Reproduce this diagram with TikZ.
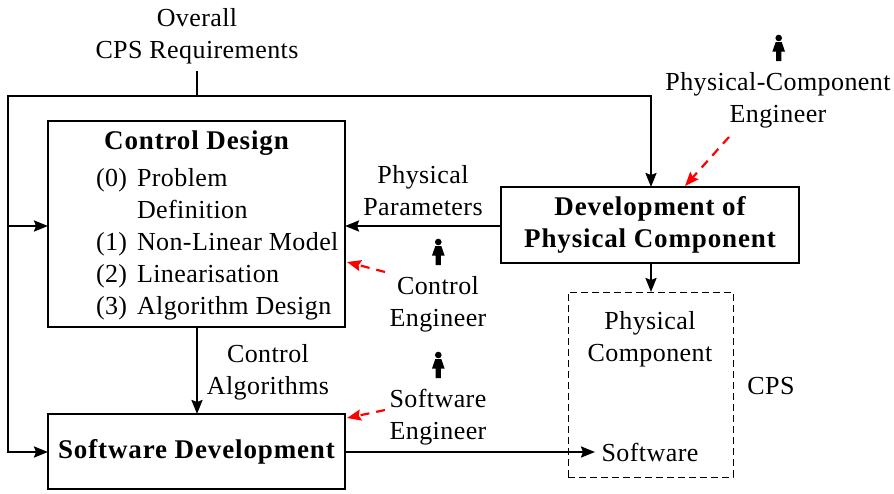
\documentclass[tikz,border=0pt]{standalone}
\usepackage{fontspec}
\setmainfont{Liberation Serif}[LetterSpace=1.6,BoldFeatures={LetterSpace=3.2}]
\usetikzlibrary{arrows.meta}
\tikzset{
  x=1pt,y=-1pt,
  lbl/.style={inner sep=0pt,outer sep=0pt,font=\fontsize{26}{32}\selectfont,text=black},
  ctr/.style={lbl,align=center},
  hd/.style={lbl,font=\fontsize{27}{32}\selectfont\bfseries},
  box/.style={draw,line width=2.2pt,inner sep=0pt,outer sep=0pt},
  dbox/.style={draw,dashed,line width=1pt,dash pattern=on 7pt off 4pt,inner sep=0pt,outer sep=0pt},
  flow/.style={line width=2.2pt,-{Stealth[length=14pt,width=11pt,inset=2pt]}},
  plain/.style={line width=2.2pt},
  who/.style={red,line width=2.2pt,dash pattern=on 9pt off 7pt,-{Stealth[length=14pt,width=11pt,inset=2pt]}},
  fem/.style={fill=black,draw=none},
}
\newcommand{\person}[2]{%
  \fill[fem] (#1,#2-11) circle (3.3);
  \fill[fem] (#1-3,#2-7) -- (#1+3,#2-7) -- (#1+6.3,#2+2.5) -- (#1+2.6,#2+2.5) -- (#1+2.6,#2+12) -- (#1-2.6,#2+12) -- (#1-2.6,#2+2.5) -- (#1-6.3,#2+2.5) -- cycle;
}
\begin{document}
\begin{tikzpicture}
\useasboundingbox (0,0) rectangle (894,493);
% boxes
\node[box,minimum width=297pt,minimum height=206pt] (cd) at (196.5,224) {};
\node[box,minimum width=298pt,minimum height=76pt,hd,align=center] (dp) at (650,225) {Development of\\Physical Component};
\node[box,minimum width=297pt,minimum height=75pt,hd] (sd) at (196.5,451.5) {Software Development};
\node[dbox,minimum width=165pt,minimum height=185pt] (cps) at (650.5,384.5) {};
% control design text
\node[hd,anchor=base] (cdt) at (196.5,149) {Control Design};
\node[lbl,anchor=base west] (n0) at (96,186) {(0)};
\node[lbl,anchor=base west] (t0) at (137,186) {Problem};
\node[lbl,anchor=base west] (t0b) at (137,218) {Definition};
\node[lbl,anchor=base west] (n1) at (96,250) {(1)};
\node[lbl,anchor=base west] (t1) at (137,250) {Non-Linear Model};
\node[lbl,anchor=base west] (n2) at (96,282) {(2)};
\node[lbl,anchor=base west] (t2) at (137,282) {Linearisation};
\node[lbl,anchor=base west] (n3) at (96,314) {(3)};
\node[lbl,anchor=base west] (t3) at (137,314) {Algorithm Design};
% labels
\node[ctr,anchor=base] (req1) at (197,26) {Overall};
\node[ctr,anchor=base] (req2) at (197,58) {CPS Requirements};
\node[ctr,anchor=base] (pp1) at (423,183) {Physical};
\node[ctr,anchor=base] (pp2) at (423,215) {Parameters};
\node[ctr,anchor=base] (ca1) at (268,362) {Control};
\node[ctr,anchor=base] (ca2) at (268,394) {Algorithms};
\node[ctr,anchor=base] (pe1) at (778,90) {Physical-Component};
\node[ctr,anchor=base] (pe2) at (778,122) {Engineer};
\node[ctr,anchor=base] (ce1) at (438,294) {Control};
\node[ctr,anchor=base] (ce2) at (438,326) {Engineer};
\node[ctr,anchor=base] (se1) at (438,407) {Software};
\node[ctr,anchor=base] (se2) at (438,439) {Engineer};
\node[ctr,anchor=base] (pc1) at (650,329) {Physical};
\node[ctr,anchor=base] (pc2) at (650,361) {Component};
\node[ctr,anchor=base] (sw) at (650,461) {Software};
\node[ctr,anchor=base] (cpsl) at (771,394) {CPS};
% persons
\person{778.7}{49}
\person{438.3}{253}
\person{438.3}{366}
% junctions and free ends
\coordinate (rq) at (197,71);
\coordinate (rj) at (197,96);
\coordinate (tl) at (8,96);
\coordinate (tr) at (651,96);
\coordinate (ml) at (8,226);
\coordinate (bl) at (8,452);
\coordinate (swend) at (595,452);
\coordinate (pes) at (729,137);
\coordinate (pet) at (685,186);
\coordinate (ces) at (385,272);
\coordinate (cet) at (347,262);
\coordinate (ses) at (385,410);
\coordinate (set) at (347,418);
% connectors
\draw[plain] (rq) -- (rj);
\draw[flow] (tl) -- (tr) -- (tr |- dp.north);
\draw[plain,line cap=rect] (tl) -- (bl);
\draw[flow] (bl) -- (bl -| sd.west);
\draw[flow] (ml) -- (ml -| cd.west);
\draw[flow] (dp.west |- ml) -- (cd.east |- ml);
\draw[flow] (dp.south -| tr) -- (tr |- cps.north);
\draw[flow] (rj |- cd.south) -- (rj |- sd.north);
\draw[flow] (sd.east |- bl) -- (swend);
\draw[who] (pes) -- (pet);
\draw[who] (ces) -- (cet);
\draw[who] (ses) -- (set);
\end{tikzpicture}
\end{document}
